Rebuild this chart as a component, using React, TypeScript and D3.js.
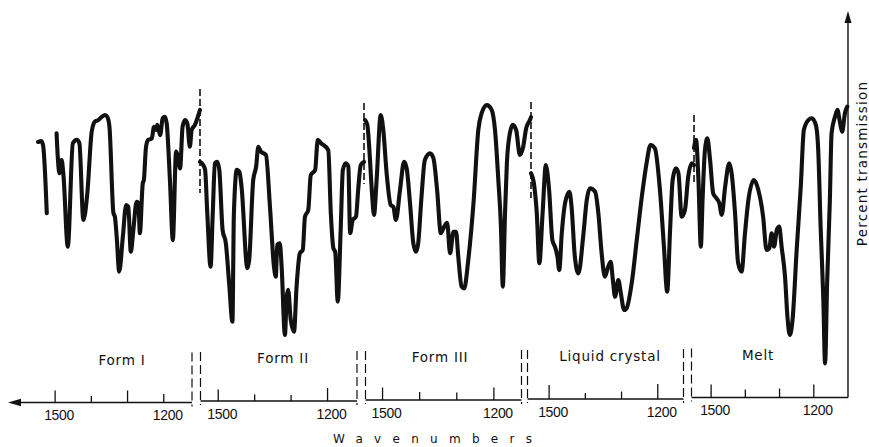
import React from 'react';
import * as d3 from 'd3';

// ---------- data ----------
const phases = ['Form I', 'Form II', 'Form III', 'Liquid crystal', 'Melt'];
const tickValues = [1500, 1400, 1300, 1200];
const labeledTicks = [1500, 1200];

const formIWavenumbers = [1547, 1538, 1533, 1523, NaN, 1496, 1488, 1482, 1477, 1465, 1451, 1440, 1433, 1422, 1411, 1399, 1390, 1381, 1371, 1362, 1356, 1350, 1339, 1335, 1330, 1323, 1313, 1304, 1298, 1291, 1284, 1275, 1270, 1266, 1258, 1255, 1249, 1243, 1233, 1227, 1221, 1218, 1210, 1203, 1197, 1192, 1183, 1175, 1166, 1162, 1155, 1148, 1141, 1135, 1128, 1123, 1114, 1100];
const formITransmission = [86, 86.3, 84.7, 62.3, NaN, 88.9, 75.6, 80, 75, 51.1, 85.6, 86.7, 85.6, 60, 69, 89.4, 92.8, 93.3, 94.4, 95, 94.4, 91.1, 62.3, 61.1, 54.4, 42.8, 54.4, 65, 64.4, 49.4, 56.7, 66.1, 65.6, 55.6, 72.2, 73.3, 84.4, 86.7, 87.2, 91.1, 90, 91.7, 88.3, 93.9, 94.4, 92.2, 73.3, 53.3, 82.8, 81.7, 77.2, 91.1, 93.3, 92.2, 84.4, 90, 91.7, 96.7];

const formIIWavenumbers = [1550, 1541, 1536, 1530, 1521, 1515, 1509, 1503, 1497, 1488, 1479, 1470, 1461, 1457, 1449, 1442, 1436, 1420, 1415, 1404, 1396, 1390, 1383, 1369, 1358, 1347, 1342, 1338, 1331, 1326, 1317, 1312, 1308, 1301, 1292, 1285, 1276, 1268, 1262, 1253, 1246, 1234, 1227, 1218, 1198, 1191, 1184, 1179, 1172, 1164, 1158, 1150, 1143, 1138, 1131, 1122, 1116, 1109, 1100];
const formIITransmission = [79.4, 78.3, 76.7, 62.2, 44.4, 62.2, 78.9, 79.4, 76.7, 56.7, 52.2, 38.9, 26.1, 62.2, 76.7, 76.1, 71.1, 43.9, 46.7, 73.3, 77.8, 84.4, 82.8, 81.7, 64.4, 44.4, 41.1, 51.7, 52.2, 44.4, 21.7, 34.4, 36.7, 26.7, 22.8, 37.8, 48.9, 50, 61.1, 63.3, 75, 76.7, 86.7, 85.6, 83.3, 62.2, 50.6, 49.4, 32.8, 56.7, 76.7, 78.9, 77.8, 55.6, 60, 61.1, 70, 78.3, 79.4];

const formIIIWavenumbers = [1547, 1541, 1536, 1529, 1523, 1516, 1505, 1498, 1489, 1478, 1471, 1464, 1453, 1442, 1435, 1426, 1417, 1410, 1404, 1395, 1386, 1372, 1363, 1353, 1343, 1334, 1326, 1318, 1309, 1302, 1296, 1287, 1280, 1269, 1255, 1242, 1233, 1219, 1206, 1197, 1188, 1181, 1176, 1170, 1165, 1157, 1149, 1140, 1130, 1121, 1113, 1103, 1100];
const formIIITransmission = [93.3, 91.7, 84.4, 70, 61.7, 73.3, 95, 90, 75.6, 65, 64.4, 60, 70, 79.4, 77.2, 65.6, 52.2, 49.4, 52.2, 67.8, 80, 82.2, 80.6, 70, 55.6, 57.8, 59.1, 48.9, 56.1, 56.1, 47.8, 37.8, 37.2, 46.7, 65.6, 90, 95.6, 98.3, 96.7, 90, 73.3, 57.8, 37.8, 62.2, 78.9, 88.9, 91.7, 90, 81.7, 84.4, 90.6, 93.3, 94.3];

const liquidCrystalWavenumbers = [1550, 1542, 1534, 1527, 1518, 1509, 1500, 1491, 1484, 1477, 1472, 1465, 1456, 1444, 1438, 1429, 1419, 1406, 1396, 1387, 1373, 1364, 1355, 1346, 1337, 1330, 1324, 1318, 1309, 1302, 1293, 1286, 1272, 1258, 1244, 1231, 1220, 1208, 1194, 1183, 1174, 1166, 1159, 1150, 1143, 1134, 1125, 1116, 1106, 1100];
const liquidCrystalTransmission = [75.6, 72.2, 62.2, 45.6, 62.2, 78.3, 70, 53.3, 51.1, 47.8, 43.3, 55.6, 65.6, 69.4, 64.4, 47.8, 42.2, 54.4, 66.7, 70.6, 69.4, 62.2, 48.9, 41.1, 44.4, 46.1, 40, 34.4, 40, 35.6, 30, 30.6, 38.9, 53.3, 67.8, 78.9, 85, 83.9, 70, 51.1, 36.1, 56.7, 73.3, 77.2, 75.6, 61.1, 63.3, 74.4, 78.9, 78.3];

const meltWavenumbers = [1550, 1544, 1537, 1530, 1525, 1518, 1511, 1503, 1494, 1484, 1476, 1469, 1459, 1447, 1440, 1430, 1421, 1411, 1401, 1391, 1375, 1362, 1348, 1338, 1330, 1323, 1316, 1308, 1301, 1294, 1284, 1277, 1270, 1262, 1250, 1238, 1229, 1216, 1206, 1194, 1187, 1180, 1172, 1167, 1161, 1153, 1148, 1138, 1131, 1123, 1117, 1109, 1102];
const meltTransmission = [84, 86.7, 73.3, 51.1, 66.7, 83.3, 87.2, 80, 68.9, 67.2, 65.6, 61.7, 71.1, 78.9, 75.6, 62.2, 45.6, 42.8, 55.6, 66.7, 73.3, 70, 61.1, 50, 50.6, 55.6, 51.1, 56.7, 57.8, 51.1, 41.1, 27.8, 21.7, 26.7, 50, 71.1, 90, 93.3, 93.9, 91.7, 83.3, 57.8, 33.3, 12.2, 38.9, 66.7, 88.9, 94.4, 96.7, 92.2, 89.4, 95.6, 97.8];

const spectra = [
  { wn: formIWavenumbers, t: formITransmission },
  { wn: formIIWavenumbers, t: formIITransmission },
  { wn: formIIIWavenumbers, t: formIIITransmission },
  { wn: liquidCrystalWavenumbers, t: liquidCrystalTransmission },
  { wn: meltWavenumbers, t: meltTransmission },
];

// ---------- layout ----------
const W = 869;
const H = 447;
const WN_DOMAIN = [1550, 1100];
const LAYOUT = [
  { x0: 37, x1: 200, a0: 19, a1: 192, axisY: 402.5, labelX: 122, tickH: [12, 6.5, 12, 8.5], divTop: 89, divBot: 193 },
  { x0: 200, x1: 364, a0: 200.5, a1: 357, axisY: 401, labelX: 283, tickH: [11.5, 6.5, 6, 13], divTop: 103, divBot: 184 },
  { x0: 364, x1: 531, a0: 365.5, a1: 521.5, axisY: 400, labelX: 440, tickH: [12.5, 8, 7.5, 12.5], divTop: 102, divBot: 198 },
  { x0: 531, x1: 694, a0: 527.5, a1: 683.5, axisY: 399, labelX: 610, tickH: [14, 6, 7.5, 15], divTop: 115, divBot: 184 },
  { x0: 694, x1: 848, a0: 691.5, a1: 848, axisY: 397.5, labelX: 758, tickH: [13, 8, 9, 13], divTop: 0, divBot: 0 },
];

const yScale = d3.scaleLinear().domain([0, 100]).range([400, 100]);

export default function App() {
  const segs = LAYOUT.map((L, i) => {
    const x = d3.scaleLinear().domain(WN_DOMAIN).range([L.x0, L.x1]);
    const pts: [number, number][] = spectra[i].wn.map((w, j) => [w, spectra[i].t[j]]);
    const line = d3
      .line<[number, number]>()
      .defined((d) => !isNaN(d[0]) && !isNaN(d[1]))
      .x((d) => x(d[0]))
      .y((d) => yScale(d[1]))
      .curve(d3.curveMonotoneX);
    return { L, x, path: line(pts) || '' };
  });

  const vx = 848;
  return (
    <svg
      width={W}
      height={H}
      viewBox={`0 0 ${W} ${H}`}
      style={{ position: 'absolute', left: 0, top: 0, background: '#fff' }}
    >
      <rect x={0} y={0} width={W} height={H} fill="#fff" />
      {segs.map(({ L, x, path }, i) => (
        <g key={i}>
          <path d={path} fill="none" stroke="#111" strokeWidth={4.1} strokeLinejoin="round" strokeLinecap="round" />
          {i < segs.length - 1 && (
            <line x1={x(1100)} x2={x(1100)} y1={L.divTop} y2={L.divBot} stroke="#111" strokeWidth={1.6} strokeDasharray="7 3" />
          )}
          <line x1={L.a0} x2={L.a1} y1={L.axisY} y2={L.axisY} stroke="#111" strokeWidth={1.4} />
          {tickValues.map((tv, k) => (
            <line key={tv} x1={x(tv)} x2={x(tv)} y1={L.axisY} y2={L.axisY - L.tickH[k]} stroke="#111" strokeWidth={1.3} />
          ))}
          {labeledTicks.map((tv) => (
            <text
              key={tv}
              x={x(tv) + 4}
              y={L.axisY + 17.5}
              textAnchor="middle"
              fontFamily="'Liberation Sans', Arial, sans-serif"
              fontSize={14}
              letterSpacing={-0.3}
              fill="#111"
            >
              {tv}
            </text>
          ))}
          <text
            x={L.labelX}
            y={L.axisY - 38}
            textAnchor="middle"
            fontFamily="'DejaVu Sans', sans-serif"
            fontSize={13.5}
            letterSpacing={0.8}
            fill="#111"
          >
            {phases[i]}
          </text>
          {i < segs.length - 1 && (
            <g>
              <line x1={L.a1} x2={L.a1} y1={L.axisY - 50} y2={L.axisY + 4} stroke="#111" strokeWidth={1.2} strokeDasharray="9 4" />
              <line
                x1={LAYOUT[i + 1].a0}
                x2={LAYOUT[i + 1].a0}
                y1={LAYOUT[i + 1].axisY - 49}
                y2={LAYOUT[i + 1].axisY + 4}
                stroke="#111"
                strokeWidth={1.2}
                strokeDasharray="9 4"
              />
            </g>
          )}
        </g>
      ))}
      <polygon points={`8,${LAYOUT[0].axisY} 21,${LAYOUT[0].axisY - 3.8} 21,${LAYOUT[0].axisY + 3.8}`} fill="#111" />
      <line x1={vx} x2={vx} y1={LAYOUT[4].axisY} y2={20} stroke="#111" strokeWidth={1.4} />
      <polygon points={`${vx},11 ${vx - 3.5},23 ${vx + 3.5},23`} fill="#111" />
      <text
        transform={`translate(867, 163.5) rotate(-90)`}
        textAnchor="middle"
        fontFamily="'DejaVu Sans', sans-serif"
        fontSize={13.5}
        letterSpacing={1.2}
        fill="#111"
      >
        Percent transmission
      </text>
      <text x={333} y={443} fontFamily="'DejaVu Sans', sans-serif" fontSize={12} letterSpacing={11.3} fill="#111">
        Wavenumbers
      </text>
    </svg>
  );
}
